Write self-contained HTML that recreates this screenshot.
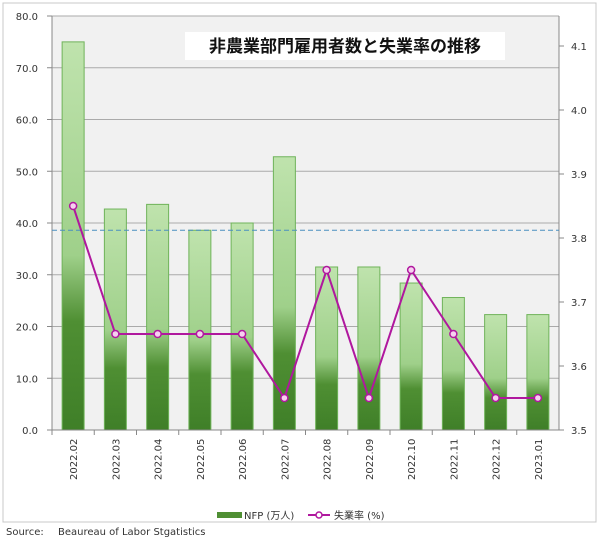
<!DOCTYPE html>
<html><head><meta charset="utf-8"><style>
body{margin:0;background:#fff;}
svg text{font-family:"DejaVu Sans","Liberation Sans","Noto Sans CJK JP",sans-serif;}
</style></head><body>
<svg width="600" height="542" viewBox="0 0 600 542">
<defs>
<linearGradient id="bg" x1="0" y1="0" x2="0" y2="1">
<stop offset="0" stop-color="#bfe3ad"/><stop offset="0.55" stop-color="#9fd08a"/><stop offset="0.72" stop-color="#4f8f33"/><stop offset="1" stop-color="#3f7f28"/>
</linearGradient>
</defs>
<rect x="3" y="3" width="593" height="519" fill="#fff" stroke="#c8c8c8"/>
<rect x="52" y="16" width="507" height="414" fill="#f1f1f1"/>
<g id="grid"></g><g id="bars"></g><g id="axes"></g><g id="line"></g>
<rect x="185" y="32" width="320" height="28" fill="#fff"/>
<text x="345" y="52" text-anchor="middle" font-size="17" font-weight="bold" fill="#111">非農業部門雇用者数と失業率の推移</text>
<g>
<rect x="217" y="512" width="25" height="6" fill="#4f8f33"/>
<text x="244" y="519" font-size="10" fill="#333">NFP (万人)</text>
<line x1="308" y1="515" x2="330" y2="515" stroke="#b0189e" stroke-width="2"/>
<circle cx="319" cy="515" r="3" fill="#fff" stroke="#b0189e" stroke-width="1.5"/>
<text x="334" y="519" font-size="10" fill="#333">失業率 (%)</text>
</g>
<text x="6" y="535" font-size="10" fill="#333">Source:</text>
<text x="58" y="535" font-size="10" fill="#333">Beaureau of Labor Stgatistics</text>
</svg>
<script>
const categories=["2022.02","2022.03","2022.04","2022.05","2022.06","2022.07","2022.08","2022.09","2022.10","2022.11","2022.12","2023.01"];
const nfp=[75.0,42.7,43.6,38.6,40.0,52.8,31.5,31.5,28.4,25.6,22.3,22.3];
const rate=[3.85,3.65,3.65,3.65,3.65,3.55,3.75,3.55,3.75,3.65,3.55,3.55];
const leftTicks=[0,10,20,30,40,50,60,70,80];
const rightTicks=[3.5,3.6,3.7,3.8,3.9,4.0,4.1];
const avgLine=[38.6];
const NS="http://www.w3.org/2000/svg";
const X0=52,X1=559,YB=430,YT=16;
const bw=(X1-X0)/categories.length;
const yL=v=>YB-(v/80)*(YB-YT);
const yR=v=>YB-(v-3.5)*640;
const xC=i=>X0+bw*(i+0.5);
function mk(p,tag,a){const e=document.createElementNS(NS,tag);for(const k in a)e.setAttribute(k,a[k]);document.getElementById(p).appendChild(e);return e;}
leftTicks.forEach(t=>{
 const l=mk('grid','line',{x1:X0,x2:X1,y1:yL(t),y2:yL(t),stroke:'#aaa','stroke-width':1});
 
 
 mk('axes','line',{x1:X0-5,x2:X0,y1:yL(t),y2:yL(t),stroke:'#888'});
 const tx=mk('axes','text',{x:X0-14,y:yL(t)+4,'text-anchor':'end','font-size':10,fill:'#333'});
 tx.textContent=t.toFixed(1);
 
 
});
rightTicks.forEach(t=>{
 mk('axes','line',{x1:X1,x2:X1+5,y1:yR(t),y2:yR(t),stroke:'#888'});
 const tx=mk('axes','text',{x:X1+12,y:yR(t)+4,'font-size':10,fill:'#333'});
 tx.textContent=t.toFixed(1);
 
 
});
mk('axes','line',{x1:X0,x2:X0,y1:YT,y2:YB,stroke:'#888'});
mk('axes','line',{x1:X1,x2:X1,y1:YT,y2:YB,stroke:'#888'});
mk('axes','line',{x1:X0,x2:X1,y1:YB,y2:YB,stroke:'#888'});
const dl=mk('axes','line',{x1:X0,x2:X1,y1:yL(avgLine[0]),y2:yL(avgLine[0]),stroke:'#4a8fc0','stroke-dasharray':'5,3','stroke-width':1});


categories.forEach((c,i)=>{
 const w=22;
 const b=mk('bars','rect',{x:xC(i)-w/2,y:yL(nfp[i]),width:w,height:YB-yL(nfp[i]),fill:'url(#bg)',stroke:'#6fb35a','stroke-width':1});
 
 
 mk('axes','line',{x1:X0+bw*i,x2:X0+bw*i,y1:YB,y2:YB+5,stroke:'#888'});
 const tx=mk('axes','text',{x:0,y:0,transform:`translate(${xC(i)+4},${YB+50}) rotate(-90)`,'font-size':10,fill:'#333'});
 tx.textContent=c;
 
 
});
const pts=rate.map((v,i)=>xC(i)+','+yR(v)).join(' ');
const pl=mk('line','polyline',{points:pts,fill:'none',stroke:'#b0189e','stroke-width':2});


rate.forEach((v,i)=>{
 const p=mk('line','circle',{cx:xC(i),cy:yR(v),r:3.5,fill:'#f7d0f0',stroke:'#b0189e','stroke-width':1.5});
 
 
});
</script>
</body></html>
